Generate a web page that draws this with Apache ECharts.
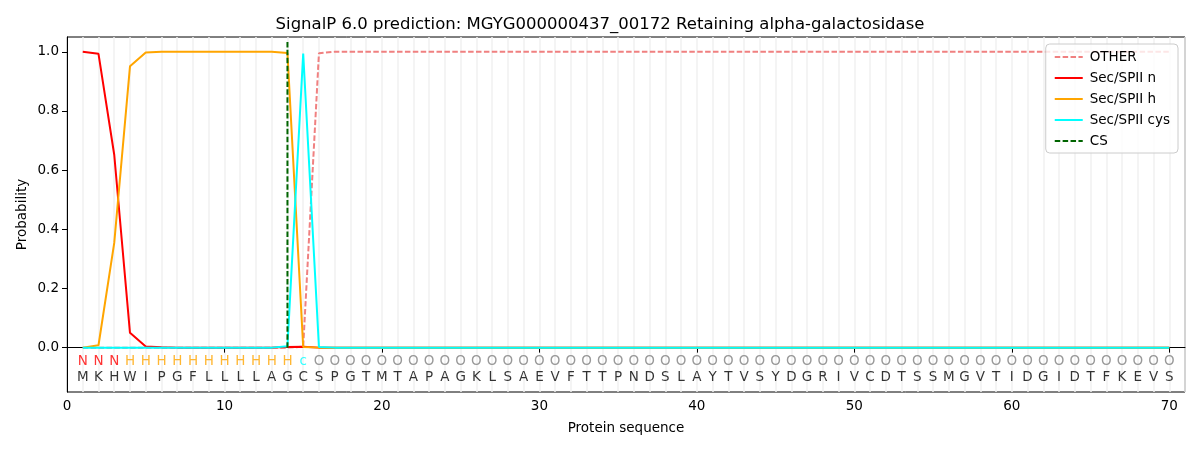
<!DOCTYPE html>
<html>
<head>
<meta charset="utf-8">
<script src="https://cdn.jsdelivr.net/npm/echarts@6/dist/echarts.min.js"></script>
<style>html,body{margin:0;padding:0;background:#fff;}#c{width:1200px;height:450px;}</style>
</head>
<body>
<div id="c"></div>
<script>
const titleText = "SignalP 6.0 prediction: MGYG000000437_00172 Retaining alpha-galactosidase";
const sequence = ["M","K","H","W","I","P","G","F","L","L","L","L","A","G","C","S","P","G","T","M","T","A","P","A","G","K","L","S","A","E","V","F","T","T","P","N","D","S","L","A","Y","T","V","S","Y","D","G","R","I","V","C","D","T","S","S","M","G","V","T","I","D","G","I","D","T","F","K","E","V","S"];
const regionLabels = ["N","N","N","H","H","H","H","H","H","H","H","H","H","H","c","O","O","O","O","O","O","O","O","O","O","O","O","O","O","O","O","O","O","O","O","O","O","O","O","O","O","O","O","O","O","O","O","O","O","O","O","O","O","O","O","O","O","O","O","O","O","O","O","O","O","O","O","O","O","O"];
const otherProb = [0,0,0,0,0,0,0,0,0,0,0,0,0,0,0.003,0.995,1,1,1,1,1,1,1,1,1,1,1,1,1,1,1,1,1,1,1,1,1,1,1,1,1,1,1,1,1,1,1,1,1,1,1,1,1,1,1,1,1,1,1,1,1,1,1,1,1,1,1,1,1,1];
const nProb = [1.0,0.993,0.652,0.05,0.004,0.001,0,0,0,0,0,0,0,0.002,0.003,0,0,0,0,0,0,0,0,0,0,0,0,0,0,0,0,0,0,0,0,0,0,0,0,0,0,0,0,0,0,0,0,0,0,0,0,0,0,0,0,0,0,0,0,0,0,0,0,0,0,0,0,0,0,0];
const hProb = [0,0.008,0.354,0.951,0.998,1,1,1,1,1,1,1,1,0.996,0.002,0,0,0,0,0,0,0,0,0,0,0,0,0,0,0,0,0,0,0,0,0,0,0,0,0,0,0,0,0,0,0,0,0,0,0,0,0,0,0,0,0,0,0,0,0,0,0,0,0,0,0,0,0,0,0];
const cysProb = [0,0,0,0,0,0,0,0,0,0,0,0,0,0.005,0.994,0.002,0,0,0,0,0,0,0,0,0,0,0,0,0,0,0,0,0,0,0,0,0,0,0,0,0,0,0,0,0,0,0,0,0,0,0,0,0,0,0,0,0,0,0,0,0,0,0,0,0,0,0,0,0,0,0,0];
const csPosition = 14;
const csTop = 1.04;
const xTicks = [0,10,20,30,40,50,60,70];
const yTicks = [0.0,0.2,0.4,0.6,0.8,1.0];

const FONT = "DejaVu Sans";
const regionColor = {N:"#ff0000", H:"#ffa500", c:"#00ffff", O:"#808080"};
const pos = sequence.map((_, i) => i + 1);
const pair = arr => arr.map((v, i) => [pos[i], v]);
const dash = [5.5, 2.4];

// layout
const H = 450, gTop = 37, gBottom = 58, gLeft = 67, gRight = 15;
const yMin = -0.15, yMax = 1.05;
const pxPerUnit = (H - gTop - gBottom) / (yMax - yMin);
const tickMin = yTicks[0], tickMax = yTicks[yTicks.length - 1];
const g2Top = gTop + (yMax - tickMax) * pxPerUnit;
const g2Bottom = gBottom + (tickMin - yMin) * pxPerUnit;

const chart = echarts.init(document.getElementById('c'), null, {renderer: 'canvas'});
chart.setOption({
  animation: false,
  backgroundColor: '#fff',
  textStyle: {fontFamily: FONT},
  title: {
    text: titleText, left: 'center', top: 11,
    textStyle: {fontFamily: FONT, fontSize: 16.5, fontWeight: 'normal', color: '#000'}
  },
  grid: [
    {left: gLeft, right: gRight, top: gTop, bottom: gBottom, show: true, borderColor: '#000', borderWidth: 1, backgroundColor: 'transparent'},
    {left: gLeft, right: gRight, top: g2Top, bottom: g2Bottom, show: false}
  ],
  legend: {
    data: ['OTHER','Sec/SPII n','Sec/SPII h','Sec/SPII cys','CS'],
    orient: 'vertical', right: 22, top: 44,
    itemWidth: 28, itemHeight: 10, itemGap: 7,
    padding: [6, 8, 5, 8],
    borderColor: '#cccccc', borderWidth: 1, borderRadius: 4,
    backgroundColor: 'rgba(255,255,255,0.8)',
    itemStyle: {opacity: 0},
    textStyle: {fontFamily: FONT, fontSize: 13.5, color: '#000', padding: [0,0,0,2]}
  },
  xAxis: [{
    gridIndex: 0, type: 'value', min: 0, max: 71, interval: 10,
    axisLine: {show: true, lineStyle: {color: '#000', width: 1}},
    axisTick: {show: true, inside: false, length: 5, lineStyle: {color: '#000'}},
    axisLabel: {fontFamily: FONT, fontSize: 13.5, color: '#000', margin: 7, showMaxLabel: false,
      formatter: v => xTicks.includes(v) ? String(v) : ''},
    splitLine: {show: false},
    name: 'Protein sequence', nameLocation: 'middle', nameGap: 29,
    nameTextStyle: {fontFamily: FONT, fontSize: 13.5, color: '#000'}
  }, {
    gridIndex: 0, type: 'value', min: 0, max: 71, interval: 1, position: 'bottom',
    axisLine: {show: false}, axisTick: {show: false}, axisLabel: {show: false},
    splitLine: {show: true, lineStyle: {color: '#f0f0f0', width: 1.5}}
  }, {
    gridIndex: 1, type: 'value', min: 0, max: 71, show: false
  }],
  yAxis: [{
    gridIndex: 0, type: 'value', min: yMin, max: yMax,
    axisLine: {show: true, lineStyle: {color: '#000', width: 1}},
    axisTick: {show: false}, axisLabel: {show: false},
    splitLine: {show: false},
    name: 'Probability', nameLocation: 'middle', nameGap: 38,
    nameTextStyle: {fontFamily: FONT, fontSize: 13.5, color: '#000'}
  }, {
    gridIndex: 1, type: 'value', min: tickMin, max: tickMax, interval: 0.2,
    axisLine: {show: false},
    axisTick: {show: true, inside: false, length: 5, lineStyle: {color: '#000'}},
    axisLabel: {fontFamily: FONT, fontSize: 13.5, color: '#000', margin: 8,
      formatter: v => v.toFixed(1)},
    splitLine: {show: false}
  }],
  series: [
    {name: 'OTHER', type: 'line', data: pair(otherProb), symbol: 'none', z: 2,
      lineStyle: {color: '#f08080', width: 2, type: dash}, itemStyle: {color: '#f08080'}},
    {name: 'Sec/SPII n', type: 'line', data: pair(nProb), symbol: 'none', z: 3,
      lineStyle: {color: '#ff0000', width: 2}, itemStyle: {color: '#ff0000'}},
    {name: 'Sec/SPII h', type: 'line', data: pair(hProb), symbol: 'none', z: 4,
      lineStyle: {color: '#ffa500', width: 2}, itemStyle: {color: '#ffa500'}},
    {name: 'Sec/SPII cys', type: 'line', data: pair(cysProb), symbol: 'none', z: 5,
      lineStyle: {color: '#00ffff', width: 2}, itemStyle: {color: '#00ffff'}},
    {name: 'CS', type: 'line', data: [[csPosition, 0], [csPosition, csTop]], symbol: 'none', z: 6,
      lineStyle: {color: '#006400', width: 2, type: dash}, itemStyle: {color: '#006400'}},
    {name: 'regions', type: 'scatter', symbolSize: 0, silent: true, z: 7,
      data: regionLabels.map((r, i) => ({value: [pos[i], -0.047], label: {color: regionColor[r]}})),
      label: {show: true, position: 'inside', fontFamily: FONT, fontSize: 13.5,
        formatter: p => regionLabels[p.dataIndex]}},
    {name: 'residues', type: 'scatter', symbolSize: 0, silent: true, z: 7,
      data: sequence.map((s, i) => [pos[i], -0.1]),
      label: {show: true, position: 'inside', fontFamily: FONT, fontSize: 13.5, color: '#000',
        formatter: p => sequence[p.dataIndex]}}
  ]
});
</script>
</body>
</html>
